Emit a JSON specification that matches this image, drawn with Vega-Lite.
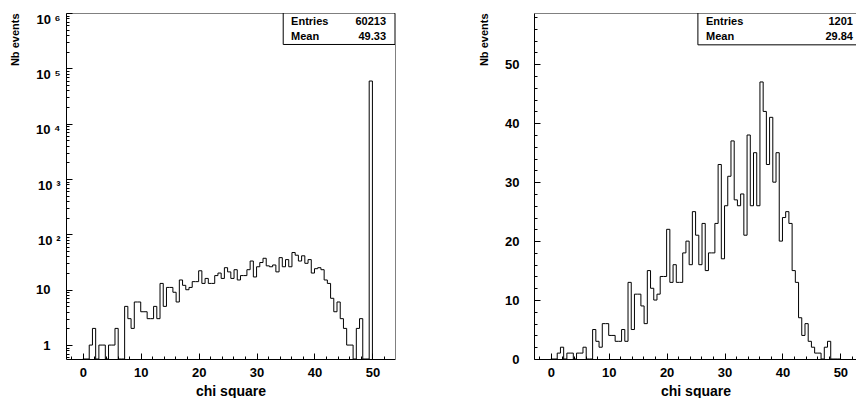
{
  "$schema": "https://vega.github.io/schema/vega-lite/v6.json",
  "background": "white",
  "padding": {"left": 9, "top": 12, "right": 0, "bottom": 0},
  "bounds": "flush",
  "spacing": 139,
  "config": {
    "font": "Liberation Sans",
    "view": {"stroke": null},
    "axis": {
      "labelFont": "Liberation Sans", "labelFontSize": 13, "labelFontWeight": "bold", "labelColor": "black",
      "titleFont": "Liberation Sans", "titleFontWeight": "bold", "titleColor": "black",
      "domainColor": "black", "domainWidth": 1,
      "grid": false, "labelOverlap": false, "labelFlush": false, "labelBound": false
    }
  },
  "datasets": {
    "hist": [
      {"lo": 0, "n": 0, "nall": 0}, {"lo": 0.556, "n": 0, "nall": 0}, {"lo": 1.111, "n": 1, "nall": 1}, {"lo": 1.667, "n": 2, "nall": 2},
      {"lo": 2.222, "n": 0, "nall": 0}, {"lo": 2.778, "n": 1, "nall": 1}, {"lo": 3.333, "n": 1, "nall": 1}, {"lo": 3.889, "n": 0, "nall": 0},
      {"lo": 4.444, "n": 1, "nall": 1}, {"lo": 5.0, "n": 1, "nall": 1}, {"lo": 5.556, "n": 2, "nall": 2}, {"lo": 6.111, "n": 0, "nall": 0},
      {"lo": 6.667, "n": 0, "nall": 0}, {"lo": 7.222, "n": 5, "nall": 5}, {"lo": 7.778, "n": 3, "nall": 3}, {"lo": 8.333, "n": 2, "nall": 2},
      {"lo": 8.889, "n": 6, "nall": 6}, {"lo": 9.444, "n": 6, "nall": 6}, {"lo": 10.0, "n": 4, "nall": 4}, {"lo": 10.556, "n": 4, "nall": 4},
      {"lo": 11.111, "n": 3, "nall": 3}, {"lo": 11.667, "n": 3, "nall": 3}, {"lo": 12.222, "n": 5, "nall": 5}, {"lo": 12.778, "n": 3, "nall": 3},
      {"lo": 13.333, "n": 13, "nall": 13}, {"lo": 13.889, "n": 5, "nall": 5}, {"lo": 14.444, "n": 11, "nall": 11}, {"lo": 15.0, "n": 11, "nall": 11},
      {"lo": 15.556, "n": 9, "nall": 9}, {"lo": 16.111, "n": 6, "nall": 6}, {"lo": 16.667, "n": 15, "nall": 15}, {"lo": 17.222, "n": 12, "nall": 12},
      {"lo": 17.778, "n": 10, "nall": 10}, {"lo": 18.333, "n": 11, "nall": 11}, {"lo": 18.889, "n": 14, "nall": 14}, {"lo": 19.444, "n": 14, "nall": 14},
      {"lo": 20.0, "n": 22, "nall": 22}, {"lo": 20.556, "n": 13, "nall": 13}, {"lo": 21.111, "n": 16, "nall": 16}, {"lo": 21.667, "n": 13, "nall": 13},
      {"lo": 22.222, "n": 13, "nall": 13}, {"lo": 22.778, "n": 18, "nall": 18}, {"lo": 23.333, "n": 20, "nall": 20}, {"lo": 23.889, "n": 16, "nall": 16},
      {"lo": 24.444, "n": 25, "nall": 25}, {"lo": 25.0, "n": 21, "nall": 21}, {"lo": 25.556, "n": 16, "nall": 16}, {"lo": 26.111, "n": 23, "nall": 23},
      {"lo": 26.667, "n": 15, "nall": 15}, {"lo": 27.222, "n": 18, "nall": 18}, {"lo": 27.778, "n": 18, "nall": 18}, {"lo": 28.333, "n": 23, "nall": 23},
      {"lo": 28.889, "n": 33, "nall": 33}, {"lo": 29.444, "n": 17, "nall": 17}, {"lo": 30.0, "n": 26, "nall": 26}, {"lo": 30.556, "n": 31, "nall": 31},
      {"lo": 31.111, "n": 37, "nall": 37}, {"lo": 31.667, "n": 27, "nall": 27}, {"lo": 32.222, "n": 26, "nall": 26}, {"lo": 32.778, "n": 28, "nall": 28},
      {"lo": 33.333, "n": 21, "nall": 21}, {"lo": 33.889, "n": 38, "nall": 38}, {"lo": 34.444, "n": 26, "nall": 26}, {"lo": 35.0, "n": 35, "nall": 35},
      {"lo": 35.556, "n": 26, "nall": 26}, {"lo": 36.111, "n": 47, "nall": 47}, {"lo": 36.667, "n": 42, "nall": 42}, {"lo": 37.222, "n": 33, "nall": 33},
      {"lo": 37.778, "n": 41, "nall": 41}, {"lo": 38.333, "n": 30, "nall": 30}, {"lo": 38.889, "n": 35, "nall": 35}, {"lo": 39.444, "n": 20, "nall": 20},
      {"lo": 40.0, "n": 24, "nall": 24}, {"lo": 40.556, "n": 25, "nall": 25}, {"lo": 41.111, "n": 23, "nall": 23}, {"lo": 41.667, "n": 15, "nall": 15},
      {"lo": 42.222, "n": 13, "nall": 13}, {"lo": 42.778, "n": 7, "nall": 7}, {"lo": 43.333, "n": 4, "nall": 4}, {"lo": 43.889, "n": 6, "nall": 6},
      {"lo": 44.444, "n": 3, "nall": 3}, {"lo": 45.0, "n": 2, "nall": 2}, {"lo": 45.556, "n": 1, "nall": 1}, {"lo": 46.111, "n": 1, "nall": 1},
      {"lo": 46.667, "n": 0, "nall": 0}, {"lo": 47.222, "n": 2, "nall": 2}, {"lo": 47.778, "n": 3, "nall": 3}, {"lo": 48.333, "n": 0, "nall": 0},
      {"lo": 48.889, "n": 0, "nall": 0}, {"lo": 49.444, "n": 0, "nall": 59012}, {"lo": 50.0, "n": 0, "nall": 0}
    ],
    "statsAll": [{"entries": 60213, "mean": 49.33}],
    "statsCut": [{"entries": 1201, "mean": 29.84}]
  },
  "hconcat": [
    {
      "width": 329,
      "height": 346,
      "resolve": {"axis": {"x": "independent", "y": "independent"}},
      "layer": [
        {
          "data": {"name": "hist"},
          "mark": {"type": "line", "interpolate": "step-after", "color": "black", "strokeWidth": 1, "invalid": "show"},
          "encoding": {
            "x": {
              "field": "lo", "type": "quantitative",
              "scale": {"domain": [-2.9, 53.9], "nice": false, "zero": false},
              "axis": {
                "title": "chi square", "titleFontSize": 14, "titlePadding": 5, "labelOverlap": false,
                "values": [0, 10, 20, 30, 40, 50],
                "labelPadding": 7, "ticks": false, "tickSize": 0
              }
            },
            "y": {
              "field": "nall", "type": "quantitative",
              "scale": {"type": "log", "domain": [0.56, 1000000], "nice": false, "clamp": true},
              "axis": {
                "title": "Nb events", "titleFontSize": 11, "titleAnchor": "end", "titlePadding": 15, "labelOverlap": false,
                "values": [1, 10, 100, 1000, 10000, 100000, 1000000],
                "labelExpr": "datum.value == 1 ? '1' : datum.value == 10 ? '10' : datum.value == 100 ? '10 ²' : datum.value == 1000 ? '10 ³' : datum.value == 10000 ? '10 ⁴' : datum.value == 100000 ? '10 ⁵' : '10 ⁶'",
                "labelPadding": {"condition": {"test": "datum.value >= 100", "value": 6}, "value": 16},
                "labelBaseline": {"condition": {"test": "datum.value >= 100", "value": "top"}, "value": "middle"},
                "ticks": false, "tickSize": 0
              }
            }
          }
        },
        {
          "data": {"name": "hist"},
          "mark": {"type": "line", "strokeOpacity": 0},
          "encoding": {
            "x": {"field": "lo", "type": "quantitative", "axis": {"orient": "top", "title": null, "labels": false, "ticks": false, "domainColor": "#808080"}},
            "y": {"field": "nall", "type": "quantitative", "axis": {"orient": "right", "title": null, "labels": false, "ticks": false, "domainColor": "#808080"}}
          }
        },
        {
          "data": {"name": "hist"},
          "mark": {"type": "line", "strokeOpacity": 0},
          "encoding": {
            "x": {
              "field": "lo", "type": "quantitative",
              "axis": {"orient": "top", "offset": -346, "title": null, "labels": false, "domain": false, "ticks": true, "tickSize": 6, "tickColor": "black", "tickWidth": 1,
                "values": [0, 10, 20, 30, 40, 50]}
            },
            "y": {
              "field": "nall", "type": "quantitative",
              "axis": {"orient": "right", "offset": -329, "title": null, "labels": false, "domain": false, "ticks": true, "tickSize": 6, "tickColor": "black", "tickWidth": 1,
                "values": [1, 10, 100, 1000, 10000, 100000, 1000000]}
            }
          }
        },
        {
          "data": {"name": "hist"},
          "mark": {"type": "line", "strokeOpacity": 0},
          "encoding": {
            "x": {
              "field": "lo", "type": "quantitative",
              "axis": {"orient": "top", "offset": -346, "title": null, "labels": false, "domain": false, "ticks": true, "tickSize": 3, "tickColor": "black", "tickWidth": 1,
                "values": [-2, 2, 4, 6, 8, 12, 14, 16, 18, 22, 24, 26, 28, 32, 34, 36, 38, 42, 44, 46, 48, 52]}
            },
            "y": {
              "field": "nall", "type": "quantitative",
              "axis": {"orient": "right", "offset": -329, "title": null, "labels": false, "domain": false, "ticks": true, "tickSize": 3, "tickColor": "black", "tickWidth": 1,
                "values": [0.6, 0.7, 0.8, 0.9, 2, 3, 4, 5, 6, 7, 8, 9, 20, 30, 40, 50, 60, 70, 80, 90, 200, 300, 400, 500, 600, 700, 800, 900, 2000, 3000, 4000, 5000, 6000, 7000, 8000, 9000, 20000, 30000, 40000, 50000, 60000, 70000, 80000, 90000, 200000, 300000, 400000, 500000, 600000, 700000, 800000, 900000]}
            }
          }
        },
        {
          "data": {"name": "statsAll"},
          "mark": {"type": "rect", "fill": "white", "stroke": "black", "strokeWidth": 1, "clip": true},
          "encoding": {"x": {"datum": 34.6, "axis": null}, "x2": {"datum": 53.9}, "y": {"datum": 1000000, "axis": null}, "y2": {"datum": 270000}}
        },
        {
          "data": {"name": "statsAll"},
          "mark": {"type": "text", "align": "left", "baseline": "alphabetic", "fontWeight": "bold", "fontSize": 11, "color": "black"},
          "encoding": {"x": {"datum": 35.96, "axis": null}, "y": {"datum": 607000, "axis": null}, "text": {"value": "Entries"}}
        },
        {
          "data": {"name": "statsAll"},
          "mark": {"type": "text", "align": "right", "baseline": "alphabetic", "fontWeight": "bold", "fontSize": 11, "color": "black"},
          "encoding": {"x": {"datum": 52.35, "axis": null}, "y": {"datum": 607000, "axis": null}, "text": {"field": "entries", "type": "quantitative", "format": "d"}}
        },
        {
          "data": {"name": "statsAll"},
          "mark": {"type": "text", "align": "left", "baseline": "alphabetic", "fontWeight": "bold", "fontSize": 11, "color": "black"},
          "encoding": {"x": {"datum": 35.96, "axis": null}, "y": {"datum": 325000, "axis": null}, "text": {"value": "Mean"}}
        },
        {
          "data": {"name": "statsAll"},
          "mark": {"type": "text", "align": "right", "baseline": "alphabetic", "fontWeight": "bold", "fontSize": 11, "color": "black"},
          "encoding": {"x": {"datum": 52.35, "axis": null}, "y": {"datum": 325000, "axis": null}, "text": {"field": "mean", "type": "quantitative", "format": ".2f"}}
        }
      ]
    },
    {
      "width": 323,
      "height": 346,
      "resolve": {"axis": {"x": "independent", "y": "independent"}},
      "layer": [
        {
          "data": {"name": "hist"},
          "mark": {"type": "line", "interpolate": "step-after", "color": "black", "strokeWidth": 1},
          "encoding": {
            "x": {
              "field": "lo", "type": "quantitative",
              "scale": {"domain": [-2.9, 52.87], "nice": false, "zero": false},
              "axis": {
                "title": "chi square", "titleFontSize": 14, "titlePadding": 5, "labelOverlap": false,
                "values": [0, 10, 20, 30, 40, 50],
                "labelPadding": 7, "ticks": false, "tickSize": 0
              }
            },
            "y": {
              "field": "n", "type": "quantitative",
              "scale": {"domain": [0, 58.7], "nice": false, "zero": true},
              "axis": {
                "title": "Nb events", "titleFontSize": 11, "titleAnchor": "end", "titlePadding": 15, "labelOverlap": false,
                "values": [0, 10, 20, 30, 40, 50],
                "labelPadding": 15, "labelBaseline": "middle",
                "ticks": false, "tickSize": 0
              }
            }
          }
        },
        {
          "data": {"name": "hist"},
          "mark": {"type": "line", "strokeOpacity": 0},
          "encoding": {
            "x": {"field": "lo", "type": "quantitative", "axis": {"orient": "top", "title": null, "labels": false, "ticks": false, "domainColor": "#808080"}},
            "y": {"field": "n", "type": "quantitative", "axis": null}
          }
        },
        {
          "data": {"name": "hist"},
          "mark": {"type": "line", "strokeOpacity": 0},
          "encoding": {
            "x": {
              "field": "lo", "type": "quantitative",
              "axis": {"orient": "top", "offset": -346, "title": null, "labels": false, "domain": false, "ticks": true, "tickSize": 6, "tickColor": "black", "tickWidth": 1,
                "values": [0, 10, 20, 30, 40, 50]}
            },
            "y": {
              "field": "n", "type": "quantitative",
              "axis": {"orient": "right", "offset": -323, "title": null, "labels": false, "domain": false, "ticks": true, "tickSize": 6, "tickColor": "black", "tickWidth": 1,
                "values": [0, 10, 20, 30, 40, 50]}
            }
          }
        },
        {
          "data": {"name": "hist"},
          "mark": {"type": "line", "strokeOpacity": 0},
          "encoding": {
            "x": {
              "field": "lo", "type": "quantitative",
              "axis": {"orient": "top", "offset": -346, "title": null, "labels": false, "domain": false, "ticks": true, "tickSize": 3, "tickColor": "black", "tickWidth": 1,
                "values": [-2, 2, 4, 6, 8, 12, 14, 16, 18, 22, 24, 26, 28, 32, 34, 36, 38, 42, 44, 46, 48, 52]}
            },
            "y": {
              "field": "n", "type": "quantitative",
              "axis": {"orient": "right", "offset": -323, "title": null, "labels": false, "domain": false, "ticks": true, "tickSize": 3, "tickColor": "black", "tickWidth": 1,
                "values": [2, 4, 6, 8, 12, 14, 16, 18, 22, 24, 26, 28, 32, 34, 36, 38, 42, 44, 46, 48, 52, 54, 56, 58]}
            }
          }
        },
        {
          "data": {"name": "statsCut"},
          "mark": {"type": "rect", "fill": "white", "stroke": "black", "strokeWidth": 1, "clip": true},
          "encoding": {"x": {"datum": 25.4, "axis": null}, "x2": {"datum": 53.9}, "y": {"datum": 58.7, "axis": null}, "y2": {"datum": 53.3}}
        },
        {
          "data": {"name": "statsCut"},
          "mark": {"type": "text", "align": "left", "baseline": "alphabetic", "fontWeight": "bold", "fontSize": 11, "color": "black"},
          "encoding": {"x": {"datum": 26.8, "axis": null}, "y": {"datum": 56.66, "axis": null}, "text": {"value": "Entries"}}
        },
        {
          "data": {"name": "statsCut"},
          "mark": {"type": "text", "align": "right", "baseline": "alphabetic", "fontWeight": "bold", "fontSize": 11, "color": "black"},
          "encoding": {"x": {"datum": 52.17, "axis": null}, "y": {"datum": 56.66, "axis": null}, "text": {"field": "entries", "type": "quantitative", "format": "d"}}
        },
        {
          "data": {"name": "statsCut"},
          "mark": {"type": "text", "align": "left", "baseline": "alphabetic", "fontWeight": "bold", "fontSize": 11, "color": "black"},
          "encoding": {"x": {"datum": 26.8, "axis": null}, "y": {"datum": 54.1, "axis": null}, "text": {"value": "Mean"}}
        },
        {
          "data": {"name": "statsCut"},
          "mark": {"type": "text", "align": "right", "baseline": "alphabetic", "fontWeight": "bold", "fontSize": 11, "color": "black"},
          "encoding": {"x": {"datum": 52.17, "axis": null}, "y": {"datum": 54.1, "axis": null}, "text": {"field": "mean", "type": "quantitative", "format": ".2f"}}
        }
      ]
    }
  ]
}
